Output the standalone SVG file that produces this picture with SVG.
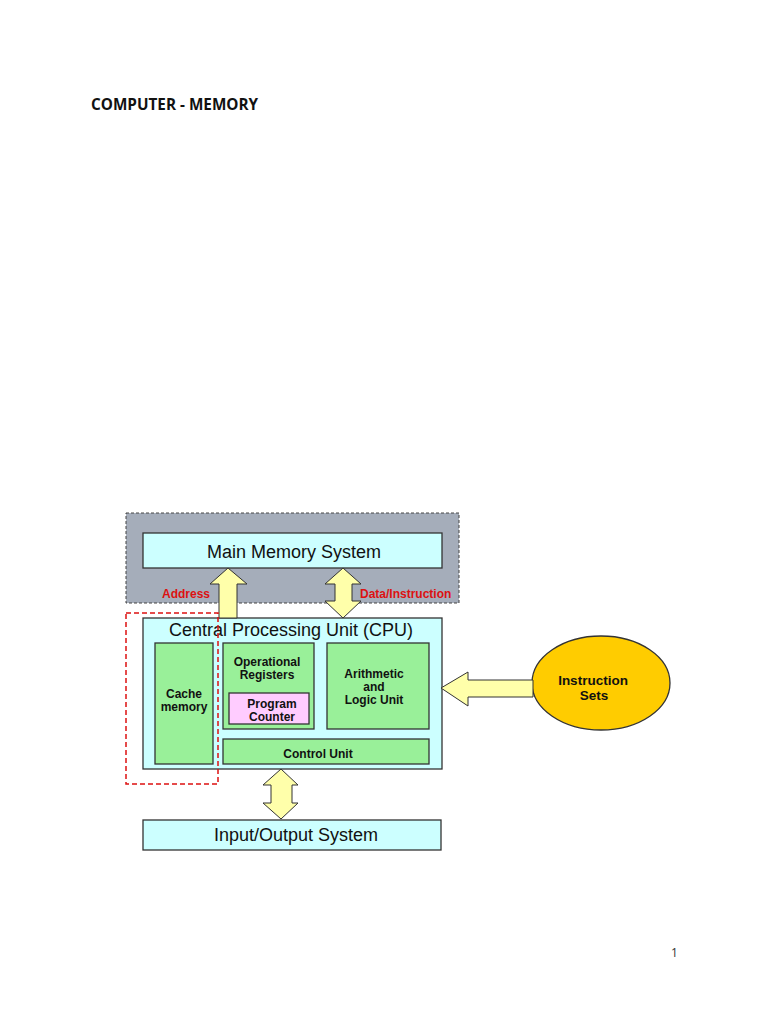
<svg xmlns="http://www.w3.org/2000/svg" width="768" height="1024" viewBox="0 0 768 1024">
<style>
.box{stroke:#333;stroke-width:1.3}
.cyan{fill:#ccffff}
.green{fill:#99f099}
.arrow{fill:#ffffaa;stroke:#333;stroke-width:1}
.big{font-family:"Liberation Sans",Arial,sans-serif;font-size:18px;fill:#111}
.lbl{font-family:"Liberation Sans",Arial,sans-serif;font-size:12px;font-weight:bold;fill:#111}
.red{font-family:"Liberation Sans",Arial,sans-serif;font-size:12px;font-weight:bold;fill:#dd1111}
</style>
<rect width="768" height="1024" fill="#ffffff"/>
<text x="91" y="110" font-family="'Open Sans','Liberation Sans',sans-serif" font-size="15.3" font-weight="bold" fill="#111">COMPUTER - MEMORY</text>
<text x="671" y="957" font-family="'Open Sans','Liberation Sans',sans-serif" font-size="12" fill="#333">1</text>

<g id="memory-region">
<rect x="126" y="513" width="333" height="90" fill="#a5adba" stroke="#444" stroke-width="1" stroke-dasharray="3,2"/>
</g>
<g id="main-memory">
<rect class="box cyan" x="143" y="533" width="299" height="35"/>
<text class="big" x="294" y="558" text-anchor="middle">Main Memory System</text>
</g>

<g id="cpu">
<rect class="box cyan" x="143" y="618" width="299" height="151"/>
<text class="big" x="291" y="636" text-anchor="middle">Central Processing Unit (CPU)</text>
</g>
<g id="cache">
<rect class="box green" x="155" y="643" width="58" height="121"/>
<text class="lbl" x="184" y="698" text-anchor="middle">Cache</text>
<text class="lbl" x="184" y="711" text-anchor="middle">memory</text>
</g>
<g id="registers">
<rect class="box green" x="223" y="643" width="91" height="86"/>
<text class="lbl" x="267" y="666" text-anchor="middle">Operational</text>
<text class="lbl" x="267" y="679" text-anchor="middle">Registers</text>
</g>
<g id="program-counter">
<rect class="box" fill="#ffccff" x="229" y="693" width="80" height="31"/>
<text class="lbl" x="272" y="708" text-anchor="middle">Program</text>
<text class="lbl" x="272" y="721" text-anchor="middle">Counter</text>
</g>
<g id="alu">
<rect class="box green" x="327" y="643" width="102" height="86"/>
<text class="lbl" x="374" y="678" text-anchor="middle">Arithmetic</text>
<text class="lbl" x="374" y="691" text-anchor="middle">and</text>
<text class="lbl" x="374" y="704" text-anchor="middle">Logic Unit</text>
</g>
<g id="control-unit">
<rect class="box green" x="223" y="739" width="206" height="25"/>
<text class="lbl" x="318" y="758" text-anchor="middle">Control Unit</text>
</g>
<g id="io">
<rect class="box cyan" x="143" y="820" width="298" height="30"/>
<text class="big" x="296" y="841" text-anchor="middle">Input/Output System</text>
</g>
<g id="instruction-sets">
<ellipse cx="601" cy="683" rx="69" ry="47" fill="#ffcc00" stroke="#333" stroke-width="1.3"/>
<text class="lbl" x="593" y="685" text-anchor="middle" style="font-size:13.5px">Instruction</text>
<text class="lbl" x="594" y="700" text-anchor="middle" style="font-size:13.5px">Sets</text>
</g>

<g id="connectors">
<polygon class="arrow" points="228,568 247,584 237,584 237,618 219,618 219,584 210,584"/>
<polygon class="arrow" points="343,568 361,584 352,584 352,601 361,601 343,618 325,601 335,601 335,584 325,584"/>
<polygon class="arrow" points="281,769 298,785 292,785 292,803 298,803 281,819 263,803 271,803 271,785 263,785"/>
<polygon class="arrow" points="441,688 468,672 468,680 533,680 533,697 468,697 468,706"/>
<text class="red" x="162" y="598">Address</text>
<text class="red" x="360" y="598">Data/Instruction</text>
<rect x="126" y="613" width="92" height="171" fill="none" stroke="#dd1111" stroke-width="1.5" stroke-dasharray="5,3"/>
</g>
</svg>
